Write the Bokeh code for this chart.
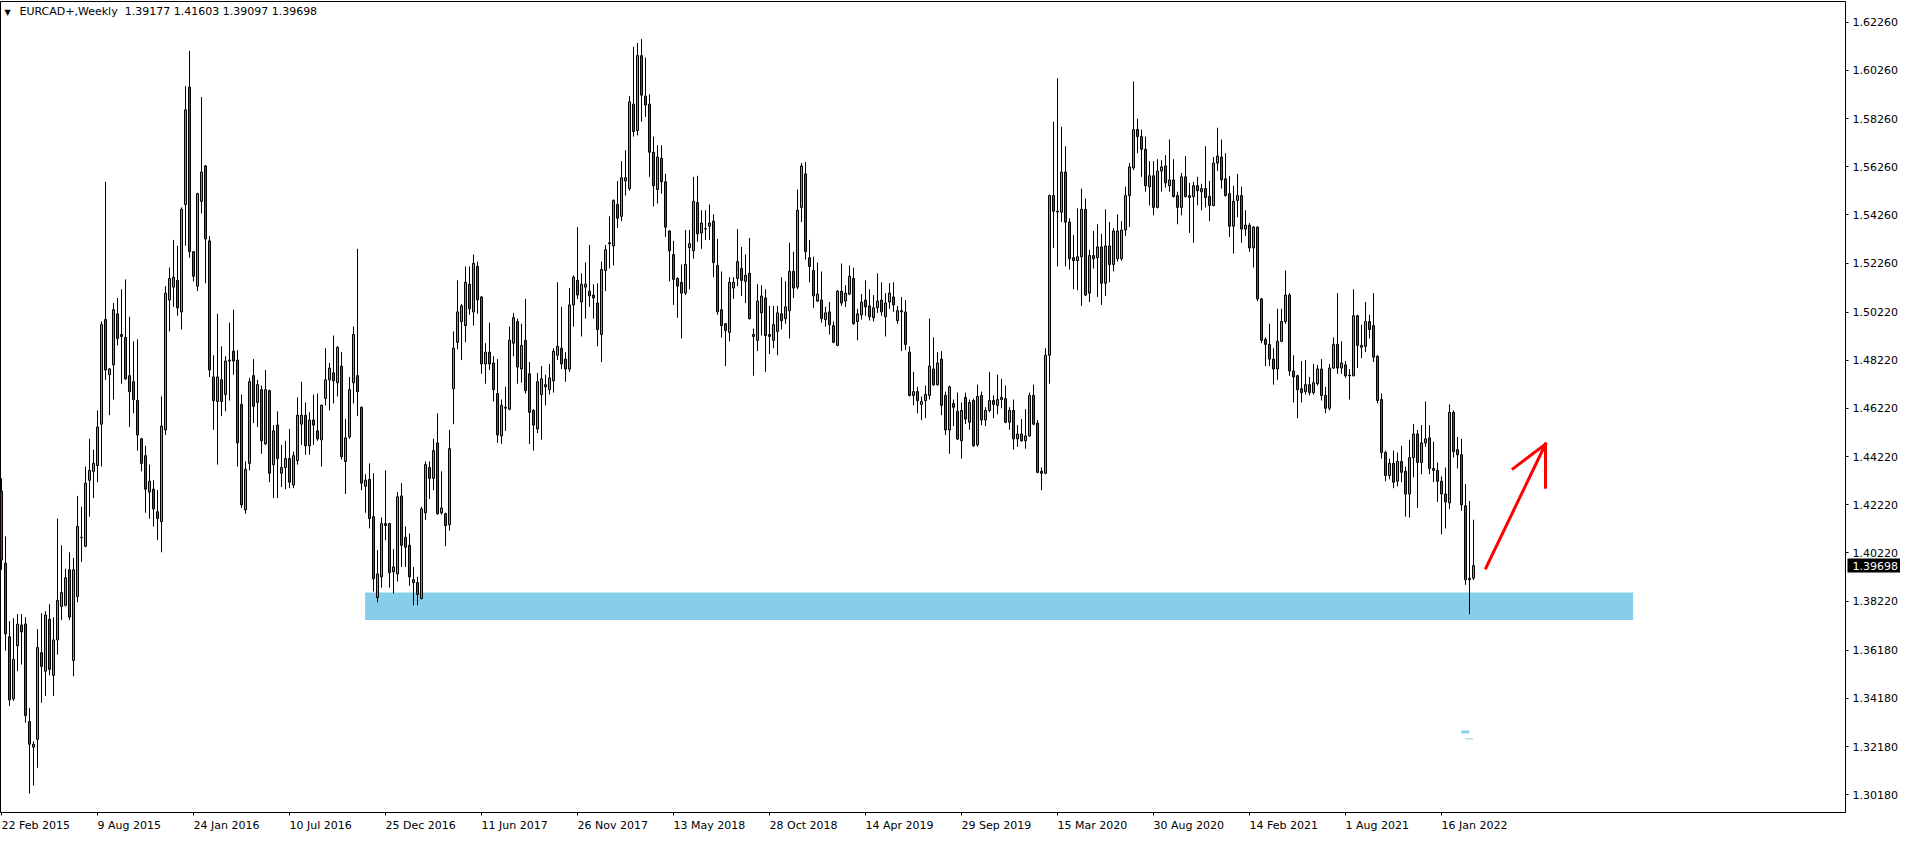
from bokeh.plotting import figure
from bokeh.models import (ColumnDataSource, LinearAxis, FixedTicker, PrintfTickFormatter,
                          Range1d, Label)
from bokeh.core.properties import value
from bokeh.embed import file_html
from bokeh.resources import INLINE

# ---------------- data (weekly EURCAD+, bar 0 = week of 22 Feb 2015) ----------------
opens = [
    1.4279, 1.3980, 1.3674, 1.3416, 1.3637, 1.3723, 1.3727, 1.3322, 1.3216, 1.3248,
    1.3608, 1.3531, 1.3747, 1.3514, 1.3661, 1.3800, 1.3805, 1.3952, 1.3576, 1.3841,
    1.4087, 1.4050, 1.4324, 1.4361, 1.4385, 1.4557, 1.4991, 1.4762, 1.4803, 1.5015,
    1.4929, 1.4917, 1.4758, 1.4733, 1.4655, 1.4496, 1.4426, 1.4275, 1.4287, 1.4193,
    1.4152, 1.4533, 1.5072, 1.5126, 1.5154, 1.5023, 1.5469, 1.5956, 1.5273, 1.5130,
    1.5482, 1.5629, 1.5318, 1.4753, 1.4651, 1.4741, 1.4680, 1.4819, 1.4860, 1.4823,
    1.4639, 1.4201, 1.4394, 1.4758, 1.4647, 1.4700, 1.4475, 1.4696, 1.4389, 1.4553,
    1.4353, 1.4377, 1.4414, 1.4304, 1.4406, 1.4557, 1.4594, 1.4467, 1.4574, 1.4529,
    1.4492, 1.4664, 1.4741, 1.4770, 1.4729, 1.4798, 1.4402, 1.4504, 1.4729, 1.4758,
    1.4627, 1.4299, 1.4328, 1.4173, 1.3837, 1.3923, 1.4144, 1.4144, 1.3944, 1.3935,
    1.4259, 1.4087, 1.4054, 1.3911, 1.3899, 1.3833, 1.4189, 1.4377, 1.4332, 1.4479,
    1.4189, 1.4185, 1.4140, 1.4704, 1.4897, 1.4983, 1.4966, 1.5138, 1.5023, 1.5212,
    1.5085, 1.4807, 1.4856, 1.4811, 1.4684, 1.4508, 1.4623, 1.4619, 1.4893, 1.4983,
    1.4786, 1.4905, 1.4766, 1.4614, 1.4537, 1.4680, 1.4712, 1.4700, 1.4737, 1.4843,
    1.4872, 1.4827, 1.4786, 1.5052, 1.5154, 1.5064, 1.5126, 1.5109, 1.5093, 1.5060,
    1.4929, 1.5195, 1.5306, 1.5297, 1.5469, 1.5420, 1.5567, 1.5535, 1.5886, 1.5776,
    1.6087, 1.5919, 1.5886, 1.5686, 1.5531, 1.5661, 1.5563, 1.5359, 1.5261, 1.5162,
    1.5146, 1.5101, 1.5290, 1.5277, 1.5477, 1.5351, 1.5367, 1.5379, 1.5400, 1.5216,
    1.5032, 1.4974, 1.4938, 1.5122, 1.5162, 1.5203, 1.5150, 1.5183, 1.4929, 1.4905,
    1.5019, 1.5081, 1.4929, 1.4905, 1.4942, 1.5015, 1.4995, 1.5028, 1.5191, 1.5126,
    1.5457, 1.5596, 1.5248, 1.5195, 1.5068, 1.5072, 1.4991, 1.5023, 1.4966, 1.4884,
    1.5109, 1.5068, 1.5097, 1.5162, 1.4983, 1.5011, 1.5072, 1.5048, 1.4999, 1.5040,
    1.5072, 1.5003, 1.5064, 1.5085, 1.4987, 1.5028, 1.5023, 1.4856, 1.4676, 1.4692,
    1.4639, 1.4655, 1.4676, 1.4786, 1.4721, 1.4827, 1.4676, 1.4533, 1.4643, 1.4610,
    1.4488, 1.4668, 1.4565, 1.4655, 1.4471, 1.4676, 1.4574, 1.4614, 1.4655, 1.4635,
    1.4659, 1.4663, 1.4565, 1.4614, 1.4496, 1.4516, 1.4488, 1.4508, 1.4676, 1.4561,
    1.4361, 1.4353, 1.4843, 1.5506, 1.5441, 1.5437, 1.5604, 1.5396, 1.5248, 1.5236,
    1.5252, 1.5449, 1.5101, 1.5257, 1.5248, 1.5293, 1.5142, 1.5297, 1.5220, 1.5244,
    1.5244, 1.5363, 1.5506, 1.5621, 1.5780, 1.5751, 1.5698, 1.5543, 1.5588, 1.5457,
    1.5608, 1.5629, 1.5547, 1.5571, 1.5506, 1.5457, 1.5584, 1.5506, 1.5502, 1.5547,
    1.5522, 1.5535, 1.5502, 1.5465, 1.5641, 1.5666, 1.5576, 1.5514, 1.5379, 1.5486,
    1.5506, 1.5367, 1.5383, 1.5289, 1.5375, 1.5077, 1.4909, 1.4888, 1.4827, 1.4786,
    1.4901, 1.4983, 1.5093, 1.4778, 1.4758, 1.4704, 1.4692, 1.4721, 1.4688, 1.4725,
    1.4786, 1.4676, 1.4623, 1.4790, 1.4888, 1.4790, 1.4803, 1.4758, 1.4758, 1.5007,
    1.4876, 1.4880, 1.4983, 1.4966, 1.4839, 1.4659, 1.4439, 1.4344, 1.4394, 1.4320,
    1.4402, 1.4361, 1.4267, 1.4418, 1.4516, 1.4398, 1.4479, 1.4500, 1.4373, 1.4365,
    1.4320, 1.4267, 1.4230, 1.4606, 1.4451, 1.4430, 1.4218, 1.3911, 1.39177,
]
highs = [
    1.4332, 1.4091, 1.3739, 1.3751, 1.3768, 1.3768, 1.3755, 1.3379, 1.3240, 1.3706,
    1.3772, 1.3780, 1.3809, 1.3755, 1.4165, 1.4054, 1.3956, 1.4025, 1.4001, 1.4259,
    1.4214, 1.4381, 1.4496, 1.4451, 1.4614, 1.4983, 1.5563, 1.4790, 1.5060, 1.5081,
    1.5117, 1.5158, 1.5003, 1.4901, 1.4909, 1.4500, 1.4467, 1.4389, 1.4324, 1.4283,
    1.4672, 1.5130, 1.5207, 1.5322, 1.5297, 1.5457, 1.5960, 1.6107, 1.5276, 1.5518,
    1.5915, 1.5633, 1.5338, 1.4843, 1.5015, 1.4880, 1.4839, 1.4978, 1.5032, 1.4864,
    1.4680, 1.4402, 1.4749, 1.4827, 1.4741, 1.4717, 1.4782, 1.4700, 1.4553, 1.4610,
    1.4471, 1.4488, 1.4537, 1.4443, 1.4668, 1.4733, 1.4647, 1.4606, 1.4680, 1.4684,
    1.4639, 1.4872, 1.4811, 1.4925, 1.4880, 1.4856, 1.4578, 1.4753, 1.4962, 1.5285,
    1.4630, 1.4349, 1.4394, 1.4353, 1.4034, 1.4169, 1.4365, 1.4147, 1.4038, 1.4275,
    1.4312, 1.4132, 1.4103, 1.3964, 1.3923, 1.4214, 1.4402, 1.4402, 1.4496, 1.4602,
    1.4361, 1.4189, 1.4533, 1.4942, 1.5154, 1.5056, 1.5212, 1.5212, 1.5261, 1.5232,
    1.5089, 1.4893, 1.4978, 1.4839, 1.4827, 1.4659, 1.4712, 1.4962, 1.5019, 1.4995,
    1.4974, 1.5077, 1.4815, 1.4619, 1.4770, 1.4798, 1.4762, 1.4807, 1.4872, 1.5146,
    1.5044, 1.4856, 1.5122, 1.5175, 1.5375, 1.5183, 1.5228, 1.5301, 1.5138, 1.5142,
    1.5232, 1.5301, 1.5420, 1.5490, 1.5567, 1.5649, 1.5694, 1.5919, 1.6124, 1.6140,
    1.6156, 1.6079, 1.5927, 1.5751, 1.5715, 1.5715, 1.5596, 1.5362, 1.5318, 1.5167,
    1.5220, 1.5363, 1.5363, 1.5584, 1.5588, 1.5445, 1.5445, 1.5469, 1.5428, 1.5326,
    1.5191, 1.4977, 1.5167, 1.5167, 1.5367, 1.5293, 1.5261, 1.5330, 1.4954, 1.5138,
    1.5134, 1.5117, 1.5048, 1.5048, 1.5048, 1.5167, 1.5150, 1.5310, 1.5273, 1.5531,
    1.5641, 1.5645, 1.5322, 1.5252, 1.5228, 1.5191, 1.5044, 1.5064, 1.4983, 1.5113,
    1.5224, 1.5134, 1.5216, 1.5207, 1.5036, 1.5097, 1.5154, 1.5117, 1.5093, 1.5183,
    1.5146, 1.5101, 1.5142, 1.5146, 1.5048, 1.5085, 1.5072, 1.4880, 1.4774, 1.4712,
    1.4672, 1.4717, 1.4995, 1.4917, 1.4856, 1.4860, 1.4692, 1.4717, 1.4659, 1.4688,
    1.4647, 1.4688, 1.4659, 1.4663, 1.4721, 1.4692, 1.4627, 1.4774, 1.4676, 1.4762,
    1.4745, 1.4717, 1.4627, 1.4659, 1.4553, 1.4578, 1.4619, 1.4688, 1.4721, 1.4574,
    1.4377, 1.4872, 1.5510, 1.5813, 1.5993, 1.5792, 1.5711, 1.5412, 1.5342, 1.5453,
    1.5535, 1.5494, 1.5281, 1.5359, 1.5387, 1.5347, 1.5449, 1.5396, 1.5371, 1.5428,
    1.5400, 1.5543, 1.5641, 1.5980, 1.5825, 1.5780, 1.5751, 1.5649, 1.5649, 1.5657,
    1.5653, 1.5674, 1.5739, 1.5657, 1.5522, 1.5600, 1.5670, 1.5559, 1.5563, 1.5584,
    1.5555, 1.5711, 1.5567, 1.5666, 1.5788, 1.5739, 1.5682, 1.5588, 1.5547, 1.5596,
    1.5543, 1.5445, 1.5392, 1.5379, 1.5378, 1.5080, 1.4917, 1.4974, 1.4872, 1.5036,
    1.5036, 1.5195, 1.5101, 1.4843, 1.4762, 1.4819, 1.4823, 1.4753, 1.4807, 1.4803,
    1.4827, 1.4712, 1.4807, 1.4917, 1.5101, 1.4901, 1.4819, 1.4786, 1.5117, 1.5011,
    1.4970, 1.5064, 1.5011, 1.5101, 1.4843, 1.4684, 1.4447, 1.4414, 1.4447, 1.4439,
    1.4467, 1.4381, 1.4492, 1.4557, 1.4533, 1.4553, 1.4651, 1.4553, 1.4484, 1.4398,
    1.4340, 1.4377, 1.4639, 1.4614, 1.4504, 1.4496, 1.4308, 1.4238, 1.41603,
]
lows = [
    1.3952, 1.3616, 1.3387, 1.3408, 1.3531, 1.3559, 1.3318, 1.3023, 1.3056, 1.3130,
    1.3400, 1.3428, 1.3514, 1.3428, 1.3600, 1.3743, 1.3800, 1.3743, 1.3510, 1.3817,
    1.3985, 1.4046, 1.4173, 1.4250, 1.4316, 1.4381, 1.4741, 1.4594, 1.4659, 1.4884,
    1.4725, 1.4741, 1.4545, 1.4602, 1.4447, 1.4361, 1.4189, 1.4165, 1.4132, 1.4075,
    1.4025, 1.4512, 1.4942, 1.5044, 1.5007, 1.4950, 1.5297, 1.5248, 1.5150, 1.5109,
    1.5432, 1.5142, 1.4753, 1.4533, 1.4389, 1.4590, 1.4610, 1.4655, 1.4762, 1.4381,
    1.4209, 1.4185, 1.4365, 1.4561, 1.4545, 1.4434, 1.4471, 1.4316, 1.4250, 1.4250,
    1.4296, 1.4287, 1.4291, 1.4291, 1.4389, 1.4471, 1.4430, 1.4430, 1.4471, 1.4488,
    1.4381, 1.4635, 1.4614, 1.4643, 1.4672, 1.4410, 1.4267, 1.4496, 1.4643, 1.4590,
    1.4283, 1.4189, 1.4124, 1.3862, 1.3817, 1.3878, 1.4075, 1.3878, 1.3854, 1.3903,
    1.3964, 1.3964, 1.3886, 1.3805, 1.3805, 1.3829, 1.4160, 1.4246, 1.4283, 1.4181,
    1.4181, 1.4050, 1.4115, 1.4557, 1.4868, 1.4823, 1.4897, 1.5011, 1.4966, 1.5015,
    1.4766, 1.4725, 1.4782, 1.4651, 1.4479, 1.4475, 1.4529, 1.4614, 1.4839, 1.4725,
    1.4729, 1.4684, 1.4475, 1.4447, 1.4520, 1.4492, 1.4635, 1.4680, 1.4688, 1.4823,
    1.4786, 1.4733, 1.4774, 1.4962, 1.5077, 1.4921, 1.4995, 1.5044, 1.4995, 1.4880,
    1.4815, 1.5109, 1.5203, 1.5216, 1.5371, 1.5400, 1.5506, 1.5526, 1.5751, 1.5756,
    1.5813, 1.5833, 1.5584, 1.5461, 1.5473, 1.5514, 1.5334, 1.5150, 1.5052, 1.4999,
    1.4913, 1.5093, 1.5117, 1.5244, 1.5314, 1.5285, 1.5322, 1.5322, 1.5167, 1.5011,
    1.4917, 1.4798, 1.4901, 1.5077, 1.5130, 1.5089, 1.5060, 1.4991, 1.4758, 1.4860,
    1.4925, 1.4774, 1.4848, 1.4872, 1.4843, 1.4950, 1.4974, 1.4913, 1.5081, 1.5117,
    1.5396, 1.5240, 1.5146, 1.5040, 1.5064, 1.4978, 1.4962, 1.4929, 1.4893, 1.4880,
    1.5048, 1.5044, 1.5093, 1.4970, 1.4905, 1.4991, 1.5007, 1.4987, 1.4983, 1.5019,
    1.5007, 1.4921, 1.5036, 1.5023, 1.4974, 1.4860, 1.4864, 1.4672, 1.4635, 1.4602,
    1.4574, 1.4582, 1.4659, 1.4717, 1.4717, 1.4594, 1.4512, 1.4434, 1.4549, 1.4492,
    1.4414, 1.4557, 1.4533, 1.4463, 1.4463, 1.4553, 1.4549, 1.4606, 1.4582, 1.4598,
    1.4623, 1.4561, 1.4533, 1.4451, 1.4463, 1.4484, 1.4455, 1.4505, 1.4553, 1.4353,
    1.4283, 1.4349, 1.4725, 1.5289, 1.5212, 1.5396, 1.5212, 1.5199, 1.5117, 1.5113,
    1.5048, 1.5089, 1.5064, 1.5203, 1.5085, 1.5052, 1.5089, 1.5146, 1.5191, 1.5232,
    1.5236, 1.5338, 1.5375, 1.5612, 1.5682, 1.5584, 1.5522, 1.5465, 1.5424, 1.5453,
    1.5522, 1.5539, 1.5522, 1.5498, 1.5387, 1.5424, 1.5498, 1.5351, 1.5310, 1.5465,
    1.5445, 1.5457, 1.5400, 1.5461, 1.5608, 1.5535, 1.5502, 1.5334, 1.5265, 1.5416,
    1.5310, 1.5338, 1.5273, 1.5207, 1.5068, 1.4893, 1.4798, 1.4798, 1.4721, 1.4741,
    1.4897, 1.4974, 1.4758, 1.4647, 1.4582, 1.4647, 1.4680, 1.4676, 1.4680, 1.4717,
    1.4655, 1.4602, 1.4614, 1.4786, 1.4766, 1.4766, 1.4749, 1.4659, 1.4755, 1.4790,
    1.4831, 1.4856, 1.4913, 1.4815, 1.4643, 1.4414, 1.4320, 1.4328, 1.4291, 1.4299,
    1.4316, 1.4173, 1.4169, 1.4336, 1.4209, 1.4349, 1.4463, 1.4349, 1.4316, 1.4234,
    1.4099, 1.4124, 1.4205, 1.4418, 1.4373, 1.4197, 1.3890, 1.3768, 1.39097,
]
closes = [
    1.3993, 1.3686, 1.3412, 1.3580, 1.3727, 1.3694, 1.3347, 1.3228, 1.3228, 1.3629,
    1.3551, 1.3764, 1.3539, 1.3661, 1.3825, 1.3858, 1.3919, 1.3756, 1.3952, 1.4132,
    1.4085, 1.4312, 1.4365, 1.4394, 1.4545, 1.4970, 1.4782, 1.4786, 1.5032, 1.4913,
    1.4921, 1.4745, 1.4692, 1.4659, 1.4512, 1.4394, 1.4287, 1.4320, 1.4205, 1.4165,
    1.4549, 1.5101, 1.5162, 1.5167, 1.5040, 1.5449, 1.5862, 1.5273, 1.5171, 1.5514,
    1.5604, 1.5326, 1.4782, 1.4655, 1.4753, 1.4651, 1.4819, 1.4823, 1.4819, 1.4479,
    1.4222, 1.4369, 1.4733, 1.4631, 1.4721, 1.4488, 1.4700, 1.4353, 1.4529, 1.4414,
    1.4377, 1.4414, 1.4316, 1.4426, 1.4594, 1.4594, 1.4467, 1.4574, 1.4553, 1.4496,
    1.4635, 1.4741, 1.4790, 1.4737, 1.4876, 1.4422, 1.4500, 1.4700, 1.4929, 1.4692,
    1.4312, 1.4324, 1.4165, 1.3915, 1.3935, 1.4144, 1.4136, 1.3940, 1.3964, 1.4255,
    1.4054, 1.4046, 1.3923, 1.3899, 1.3850, 1.4205, 1.4389, 1.4332, 1.4447, 1.4185,
    1.4209, 1.4136, 1.4455, 1.4872, 1.5023, 1.5048, 1.5146, 1.5036, 1.5224, 1.5073,
    1.4807, 1.4856, 1.4807, 1.4700, 1.4512, 1.4635, 1.4627, 1.4905, 1.4999, 1.4794,
    1.4884, 1.4696, 1.4606, 1.4553, 1.4733, 1.4745, 1.4721, 1.4749, 1.4860, 1.4880,
    1.4807, 1.4786, 1.5052, 1.5167, 1.5093, 1.5138, 1.5138, 1.5089, 1.5081, 1.4950,
    1.5199, 1.5281, 1.5310, 1.5486, 1.5412, 1.5580, 1.5580, 1.5895, 1.5772, 1.6087,
    1.5923, 1.5882, 1.5686, 1.5547, 1.5666, 1.5563, 1.5375, 1.5277, 1.5158, 1.5130,
    1.5101, 1.5220, 1.5306, 1.5482, 1.5347, 1.5392, 1.5369, 1.5392, 1.5228, 1.5023,
    1.4966, 1.4946, 1.5146, 1.5146, 1.5232, 1.5154, 1.5175, 1.4995, 1.4921, 1.5068,
    1.5089, 1.4925, 1.4921, 1.4970, 1.5019, 1.4987, 1.5044, 1.5191, 1.5122, 1.5445,
    1.5629, 1.5273, 1.5212, 1.5089, 1.5097, 1.4995, 1.5019, 1.4970, 1.4897, 1.5109,
    1.5060, 1.5101, 1.5171, 1.4974, 1.5015, 1.5064, 1.5044, 1.5003, 1.5040, 1.5068,
    1.5023, 1.5060, 1.5101, 1.5052, 1.5028, 1.5023, 1.4888, 1.4676, 1.4692, 1.4655,
    1.4651, 1.4680, 1.4798, 1.4720, 1.4811, 1.4635, 1.4533, 1.4712, 1.4627, 1.4495,
    1.4614, 1.4578, 1.4647, 1.4467, 1.4672, 1.4574, 1.4614, 1.4655, 1.4639, 1.4659,
    1.4668, 1.4565, 1.4614, 1.4496, 1.4516, 1.4488, 1.4508, 1.4676, 1.4557, 1.4357,
    1.4353, 1.4843, 1.5506, 1.5441, 1.5438, 1.5604, 1.5396, 1.5244, 1.5236, 1.5252,
    1.5449, 1.5093, 1.5257, 1.5244, 1.5293, 1.5142, 1.5297, 1.5220, 1.5359, 1.5359,
    1.5363, 1.5506, 1.5625, 1.5780, 1.5751, 1.5698, 1.5547, 1.5588, 1.5457, 1.5608,
    1.5625, 1.5559, 1.5571, 1.5502, 1.5457, 1.5584, 1.5502, 1.5498, 1.5547, 1.5526,
    1.5535, 1.5498, 1.5465, 1.5641, 1.5670, 1.5571, 1.5506, 1.5379, 1.5482, 1.5506,
    1.5367, 1.5383, 1.5289, 1.5375, 1.5077, 1.4905, 1.4888, 1.4827, 1.4786, 1.4901,
    1.4983, 1.5093, 1.4778, 1.4753, 1.4700, 1.4688, 1.4721, 1.4688, 1.4729, 1.4786,
    1.4676, 1.4623, 1.4790, 1.4888, 1.4790, 1.4811, 1.4758, 1.4761, 1.5007, 1.4884,
    1.4884, 1.4983, 1.4950, 1.4835, 1.4655, 1.4439, 1.4344, 1.4394, 1.4316, 1.4402,
    1.4357, 1.4267, 1.4418, 1.4516, 1.4398, 1.4479, 1.4496, 1.4373, 1.4365, 1.4320,
    1.4267, 1.4234, 1.4606, 1.4443, 1.4430, 1.4222, 1.3911, 1.3917, 1.39698,
]

date_label_bars = [0, 24, 48, 72, 96, 120, 144, 168, 192, 216, 240, 264, 288, 312, 336, 360]
date_labels = ["22 Feb 2015", "9 Aug 2015", "24 Jan 2016", "10 Jul 2016", "25 Dec 2016",
               "11 Jun 2017", "26 Nov 2017", "13 May 2018", "28 Oct 2018", "14 Apr 2019",
               "29 Sep 2019", "15 Mar 2020", "30 Aug 2020", "14 Feb 2021", "1 Aug 2021",
               "16 Jan 2022"]
price_ticks = [1.6226, 1.6026, 1.5826, 1.5626, 1.5426, 1.5226, 1.5022, 1.4822, 1.4622,
               1.4422, 1.4222, 1.4022, 1.3822, 1.3618, 1.3418, 1.3218, 1.3018]

symbol_text = "EURCAD+,Weekly"
last_ohlc = [1.39177, 1.41603, 1.39097, 1.39698]

# support zone (bars / prices) and hand-drawn arrow
zone_left, zone_right = 90.9, 407.9
zone_top, zone_bottom = 1.38577, 1.37432
arrow_xs = [[371.1, 386.0], [377.9, 386.0], [386.0, 386.0]]
arrow_ys = [[1.3960, 1.4474], [1.4372, 1.4474], [1.4474, 1.4295]]

# ---------------- figure ----------------
GREEN = "#32CD32"
RED = "#D01E1E"
FONT = "DejaVu Sans"
PX_PER_BAR = 4
FRAME_W, FRAME_H = 1845, 811
X0 = 0.0
X1 = X0 + FRAME_W / PX_PER_BAR
Y0, Y1 = 1.29444, 1.63119

p = figure(frame_width=FRAME_W, frame_height=FRAME_H, output_backend="svg",
           toolbar_location=None, x_range=Range1d(X0 - 1.0 / PX_PER_BAR, X1 - 1.0 / PX_PER_BAR),
           y_range=Range1d(Y0, Y1),
           x_axis_location=None, y_axis_location=None,
           min_border=0, min_border_left=0, min_border_top=1,
           min_border_right=55, min_border_bottom=22)
XR_END = X1 - 1.0 / PX_PER_BAR
p.background_fill_color = "white"
p.border_fill_color = "white"
p.outline_line_color = "black"
p.outline_line_width = 1
p.outline_line_alpha = 1.0
for g in p.grid:
    g.visible = False

# zone (behind candles)
p.quad(left=[zone_left], right=[zone_right], top=[zone_top], bottom=[zone_bottom],
       fill_color="#87CEEB", line_color=None)
# tiny leftover marks near bottom
p.quad(left=[364.9], right=[366.9], top=[1.3285], bottom=[1.3273],
       fill_color="#87CEEB", line_color=None)
p.segment(x0=[365.9], y0=[1.3250], x1=[367.9], y1=[1.3250], line_color="#87CEEB", line_width=1)

n = len(opens)
xs = list(range(n))
tops = [max(o, c) for o, c in zip(opens, closes)]
bots = [min(o, c) for o, c in zip(opens, closes)]
his = [max(h, t) for h, t in zip(highs, tops)]
los = [min(l, b) for l, b in zip(lows, bots)]
cols = [GREEN if c >= o else RED for o, c in zip(opens, closes)]
src = ColumnDataSource(dict(x=xs, hi=his, lo=los, top=tops, bot=bots, col=cols))

p.segment(x0="x", y0="lo", x1="x", y1="hi", source=src, line_color="black", line_width=1)
p.vbar(x="x", top="top", bottom="bot", width=2 / PX_PER_BAR, source=src,
       fill_color="col", line_color="black", line_width=1)

# arrow
p.multi_line(xs=arrow_xs, ys=arrow_ys, line_color="#FF0000", line_width=3, line_cap="square")

# right price axis
yax = LinearAxis(ticker=FixedTicker(ticks=price_ticks, minor_ticks=[]),
                 formatter=PrintfTickFormatter(format="%.5f"),
                 major_tick_out=3, major_tick_in=0, minor_tick_out=0, minor_tick_in=0,
                 major_label_standoff=4, axis_line_color="black",
                 major_tick_line_color="black",
                 major_label_text_font=FONT, major_label_text_font_size="11px",
                 major_label_text_color="black")
p.add_layout(yax, "right")

# bottom time axis: tick marks only; labels drawn left-aligned at each tick below
xax = LinearAxis(ticker=FixedTicker(ticks=date_label_bars, minor_ticks=[]),
                 major_label_overrides={b: "" for b in date_label_bars},
                 major_tick_out=3, major_tick_in=0, minor_tick_out=0, minor_tick_in=0,
                 axis_line_color="black", major_tick_line_color="black",
                 major_label_text_font_size="1px")
p.add_layout(xax, "below")

date_src = ColumnDataSource(dict(x=date_label_bars, y=[Y0] * len(date_label_bars), t=date_labels))
p.text(x="x", y="y", text="t", source=date_src, text_align="left", text_baseline="top",
       x_offset=0, y_offset=6, text_font=value(FONT), text_font_size="11px",
       text_color="black", level="overlay")

# header
p.add_layout(Label(x=4, y=FRAME_H - 6, x_units="screen", y_units="screen", text="\u25BC",
                   text_align="left", text_baseline="top", text_font=FONT,
                   text_font_size="8px", text_color="black"))
p.add_layout(Label(x=19, y=FRAME_H - 3, x_units="screen", y_units="screen",
                   text=symbol_text + "\u00a0\u00a0" + " ".join("%.5f" % v for v in last_ohlc),
                   text_align="left", text_baseline="top", text_font=FONT,
                   text_font_size="11px", text_color="black"))

# current price box on the price scale
last = closes[-1]
p.line(x=[XR_END + 2 / PX_PER_BAR, XR_END + 58 / PX_PER_BAR], y=[last, last], line_width=14,
       line_color="black", line_cap="butt", level="overlay")
p.text(x=[XR_END - 0.001], y=[last], text=["%.5f" % last], x_offset=7, text_align="left",
       text_baseline="middle", text_font=value(FONT), text_font_size="11px",
       text_color="white", level="overlay")

open("out.html", "w").write(file_html(p, INLINE))
